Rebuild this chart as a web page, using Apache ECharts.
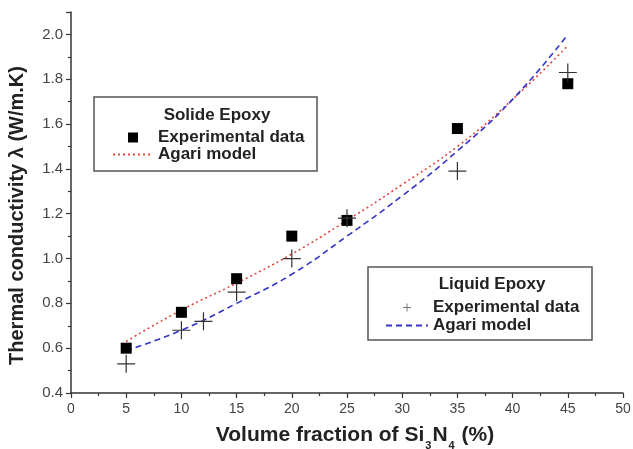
<!DOCTYPE html>
<html>
<head>
<meta charset="utf-8">
<script src="https://cdn.jsdelivr.net/npm/echarts@6/dist/echarts.min.js"></script>
<style>html,body{margin:0;padding:0;background:#fff}#c{width:633px;height:449px}</style>
</head>
<body>
<div id="c"></div>
<script>
// Solid epoxy experimental data
var solidX = [5, 10, 15, 20, 25, 35, 45];
var solidY = [0.60, 0.76, 0.91, 1.10, 1.17, 1.58, 1.78];
// Liquid epoxy experimental data
var liquidX = [5, 10, 12, 15, 20, 25, 35, 45];
var liquidY = [0.53, 0.68, 0.72, 0.85, 1.00, 1.18, 1.39, 1.83];
// Agari model curves
var modelX = [5, 10, 15, 20, 25, 30, 35, 40, 45];
var agariSolid = [0.63, 0.77, 0.89, 1.02, 1.17, 1.33, 1.50, 1.71, 1.95];
var agariLiquid = [0.59, 0.68, 0.80, 0.93, 1.10, 1.28, 1.48, 1.71, 2.00];
// legend texts
var legendTitles = ['Solide Epoxy', 'Liquid Epoxy'];
var legendLabels = ['Experimental data', 'Agari model'];

function pairs(xs, ys) { return xs.map(function (x, i) { return [x, ys[i]]; }); }

var chart = echarts.init(document.getElementById('c'), null, {renderer: 'canvas'});
var crossPath = 'path://M0,5L10,5M5,0L5,10';
var squarePath = 'path://M0,0L10,0L10,10L0,10Z';
var axisCol = '#333';
var txtCol = '#222';
var redCol = '#e0453c', blueCol = '#3434c8';
var hidden = {color: 'rgba(0,0,0,0)', borderColor: 'rgba(0,0,0,0)', borderWidth: 0, opacity: 0};
var lgText = {fontFamily: 'Liberation Sans', fontWeight: 'bold', fontSize: 17, color: txtCol, lineHeight: 17};
var option = {
  animation: false,
  backgroundColor: '#fff',
  grid: {left: 71, right: 10, top: 12, bottom: 56, containLabel: false, outerBoundsMode: 'none'},
  xAxis: {
    type: 'value', min: 0, max: 50, interval: 5,
    name: '{b|Volume fraction of Si}{s|3}{b|N}{s|4}{b| (%)}',
    nameLocation: 'middle', nameGap: 27,
    nameTextStyle: {
      padding: [0, 0, 0, 16],
      rich: {
        b: {fontFamily: 'Liberation Sans', fontWeight: 'bold', fontSize: 21, color: txtCol},
        s: {fontFamily: 'Liberation Sans', fontWeight: 'bold', fontSize: 11, color: txtCol, padding: [20, 1, 0, 1]}
      }
    },
    axisLine: {show: true, lineStyle: {color: axisCol, width: 1.5}},
    axisTick: {show: true, inside: false, length: 5, lineStyle: {color: axisCol, width: 1.2}},
    minorTick: {show: true, splitNumber: 2, length: 3, lineStyle: {color: axisCol, width: 1.2}},
    axisLabel: {fontFamily: 'Liberation Sans', fontSize: 14, color: '#444', margin: 9},
    splitLine: {show: false}
  },
  yAxis: {
    type: 'value', min: 0.4, max: 2.1, interval: 0.2,
    name: 'Thermal conductivity \u03bb (W/m.K)',
    nameLocation: 'middle', nameGap: 44,
    nameTextStyle: {fontFamily: 'Liberation Sans', fontWeight: 'bold', fontSize: 20, color: txtCol, padding: [0, 26, 0, 0]},
    axisLine: {show: true, lineStyle: {color: axisCol, width: 1.5}},
    axisTick: {show: true, inside: false, length: 5, lineStyle: {color: axisCol, width: 1.2}},
    minorTick: {show: true, splitNumber: 2, length: 3, lineStyle: {color: axisCol, width: 1.2}},
    axisLabel: {fontFamily: 'Liberation Sans', fontSize: 15, color: '#444', margin: 8,
      showMaxLabel: false,
      formatter: function (v) { return Math.abs(v - 2.1) < 1e-6 ? '' : v.toFixed(1); }},
    splitLine: {show: false}
  },
  legend: [
    {
      id: 'legSolid', show: true,
      orient: 'vertical', left: 107, top: 124, itemWidth: 40, itemHeight: 10, itemGap: 0,
      data: [
        {name: 'S_exp', icon: squarePath},
        {name: 'S_model', itemStyle: hidden}
      ],
      formatter: function (n) { return n === 'S_exp' ? legendLabels[0] : legendLabels[1]; },
      textStyle: lgText
    },
    {
      id: 'legLiquid', show: true,
      orient: 'vertical', left: 380, top: 294, itemWidth: 42, itemHeight: 8, itemGap: 1,
      data: [
        {name: 'L_exp', itemStyle: {color: 'rgba(0,0,0,0)', borderColor: '#777', borderWidth: 1}},
        {name: 'L_model', itemStyle: hidden}
      ],
      formatter: function (n) { return n === 'L_exp' ? legendLabels[0] : legendLabels[1]; },
      textStyle: lgText
    }
  ],
  graphic: [
    {type: 'rect', shape: {x: 94, y: 97, width: 223, height: 74}, style: {fill: 'rgba(0,0,0,0)', stroke: '#555', lineWidth: 1.5}, z: 0},
    {type: 'text', x: 217, y: 115, style: {text: legendTitles[0], fontFamily: 'Liberation Sans', fontWeight: 'bold', fontSize: 17, fill: txtCol, align: 'center', verticalAlign: 'middle'}},
    {type: 'rect', shape: {x: 368, y: 267, width: 224, height: 73}, style: {fill: 'rgba(0,0,0,0)', stroke: '#555', lineWidth: 1.5}, z: 0},
    {type: 'text', x: 492, y: 284, style: {text: legendTitles[1], fontFamily: 'Liberation Sans', fontWeight: 'bold', fontSize: 17, fill: txtCol, align: 'center', verticalAlign: 'middle'}}
  ],
  series: [
    {
      name: 'S_model', type: 'line', smooth: true, symbol: 'none', showSymbol: false, data: pairs(modelX, agariSolid),
      lineStyle: {color: redCol, type: [2, 3], width: 1.6}, itemStyle: {color: redCol}, z: 2
    },
    {
      name: 'L_model', type: 'line', smooth: true, symbol: 'none', showSymbol: false, data: pairs(modelX, agariLiquid),
      lineStyle: {color: blueCol, type: [6, 4], width: 1.6}, itemStyle: {color: blueCol}, z: 2
    },
    {
      name: 'S_exp', type: 'scatter', symbol: 'rect', symbolSize: 11, data: pairs(solidX, solidY),
      itemStyle: {color: '#000', opacity: 1}, z: 3
    },
    {
      name: 'L_exp', type: 'scatter', symbol: crossPath, symbolSize: 18, data: pairs(liquidX, liquidY),
      itemStyle: {color: 'rgba(0,0,0,0)', borderColor: '#333', borderWidth: 1.2, opacity: 1}, z: 4
    }
  ]
};
chart.setOption(option);
</script>
</body>
</html>
